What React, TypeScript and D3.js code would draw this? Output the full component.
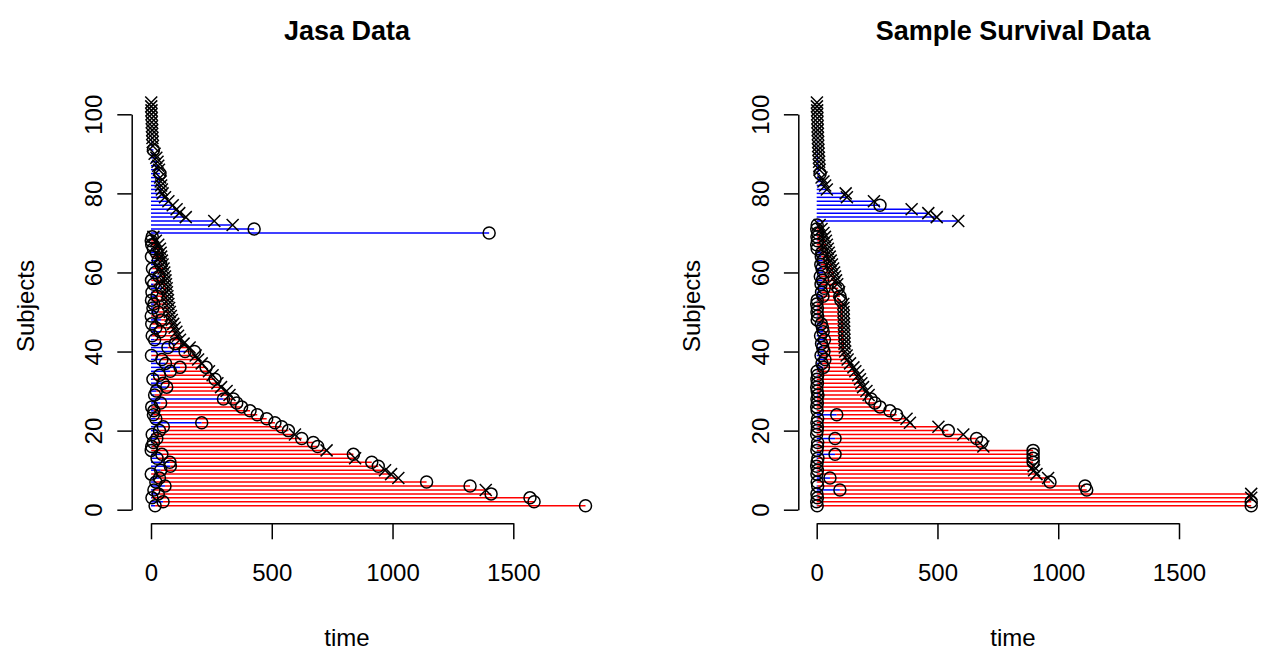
import React, { useEffect, useRef } from "react";
import * as d3 from "d3";

const FONT = "'Liberation Sans', Arial, Helvetica, sans-serif";

// subjects are numbered 1..103 from the bottom of each panel.
// wait = days before transplant (only the first rows were transplanted),
// end = last follow-up day, status 1 = died (x), 0 = censored (o)

// ---- Jasa Data ----
const jasaWait = [
  17, 50, 4, 30, 12, 58, 20, 35, 1, 40,
  80, 78, 25, 45, 1, 3, 10, 24, 5, 35,
  51, 210, 20, 10, 12, 3, 40, 300, 15, 22,
  65, 50, 8, 35, 80, 120, 60, 45, 2, 141,
  70, 100, 15, 5, 38, 20, 3, 42, 1, 30,
  8, 12, 2, 25, 4, 45, 11, 2, 33, 17,
  6, 40, 30, 2, 22, 10, 3, 1, 5,
];
const jasaEnd = [
  1799, 1586, 1569, 1408, 1386, 1321, 1141, 1024, 994, 969,
  941, 914, 845, 838, 727, 690, 672, 624, 596, 569,
  541, 513, 479, 440, 410, 375, 355, 341, 325, 313,
  290, 275, 265, 255, 240, 228, 210, 195, 185, 180,
  160, 135, 120, 112, 105, 98, 92, 86, 82, 78,
  75, 72, 70, 68, 66, 65, 62, 60, 58, 55,
  52, 48, 45, 42, 40, 37, 30, 20, 10,
  1400, 427, 338, 262, 144, 117, 106, 90, 72, 58,
  48, 45, 42, 40, 38, 37, 33, 30, 27, 22,
  15, 10, 8, 7, 6, 5, 5, 4, 3, 3,
  2, 2, 1, 1,
];
const jasaStatus = [
  0, 0, 0, 0, 1, 0, 0, 1, 1, 1,
  0, 0, 1, 0, 1, 0, 0, 0, 1, 0,
  0, 0, 0, 0, 0, 0, 0, 0, 1, 1,
  1, 1, 0, 1, 1, 0, 1, 1, 1, 0,
  1, 1, 1, 1, 1, 1, 1, 1, 1, 1,
  1, 1, 1, 1, 1, 1, 1, 1, 1, 1,
  1, 1, 1, 1, 1, 1, 1, 1, 1,
  0, 0, 1, 1, 1, 1, 1, 1, 1, 1,
  1, 1, 1, 1, 1, 0, 1, 1, 1, 1,
  1, 0, 1, 1, 1, 1, 1, 1, 1, 1,
  1, 1, 1, 1,
];

// ---- Sample Survival Data ----
const sampleWait = [
  2, 0, 3, 1, 96, 4, 2, 55, 1, 3,
  0, 2, 5, 76, 1, 3, 4, 76, 0, 2,
  3, 1, 4, 83, 2, 0, 3, 1, 5, 2,
  0, 3, 1, 4, 2, 28, 22, 34, 18, 30,
  25, 20, 32, 16, 27, 24, 19, 2, 4, 1,
  3, 0, 2, 26, 20, 31, 18, 24, 15, 28,
  22, 17, 25, 19, 21, 2, 0, 3, 1, 4,
  0, 2,
];
const sampleEnd = [
  1799, 1799, 1799, 1799, 1118, 1111, 966, 958, 910, 900,
  898, 896, 896, 896, 896, 690, 683, 662, 607, 545,
  504, 386, 372, 331, 303, 262, 241, 225, 215, 206,
  192, 185, 179, 172, 160, 152, 138, 128, 124, 118,
  116, 115, 115, 114, 114, 113, 113, 112, 112, 111,
  111, 110, 100, 96, 93, 89, 85, 80, 76, 72,
  68, 63, 58, 54, 50, 46, 42, 38, 34, 28,
  20, 12,
  586, 497, 462, 393, 262, 237, 125, 120, 42, 35,
  28, 20, 14, 12, 11, 10, 9, 8, 7, 6,
  6, 5, 5, 4, 4, 3, 3, 2, 2, 1,
  1,
];
const sampleStatus = [
  0, 0, 1, 1, 0, 0, 0, 1, 1, 1,
  1, 0, 0, 0, 0, 1, 0, 0, 1, 0,
  1, 1, 1, 0, 0, 0, 0, 0, 1, 1,
  1, 1, 1, 1, 1, 1, 1, 1, 1, 1,
  1, 1, 1, 1, 1, 1, 1, 1, 1, 1,
  1, 1, 0, 0, 1, 0, 1, 1, 1, 1,
  1, 1, 1, 1, 1, 1, 1, 1, 1, 1,
  1, 1,
  1, 1, 1, 1, 0, 1, 1, 1, 1, 1,
  1, 1, 0, 1, 1, 1, 1, 1, 1, 1,
  1, 1, 1, 1, 1, 1, 1, 1, 1, 1,
  1,
];

const xTicks = [0, 500, 1000, 1500];
const yTicks = [0, 20, 40, 60, 80, 100];

// layout of each panel (pixels)
const panels = [
  { title: "Jasa Data", wait: jasaWait, end: jasaEnd, status: jasaStatus, axisX: 131.7, zeroX: 151, center: 347 },
  { title: "Sample Survival Data", wait: sampleWait, end: sampleEnd, status: sampleStatus, axisX: 798.3, zeroX: 816.7, center: 1013 },
];

const drawPanel = (g, p) => {
  const x = d3.scaleLinear().domain([0, 1500]).range([p.zeroX, p.zeroX + 362.3]);
  const y = d3.scaleLinear().domain([0, 100]).range([509.7, 114.3]);

  const subjects = p.end.map((t, k) => ({
    id: k + 1,
    wait: k < p.wait.length ? p.wait[k] : null,
    end: t,
    dead: p.status[k] === 1,
  }));

  // blue: time before transplant (or whole follow-up when never transplanted)
  g.append("g")
    .selectAll("line")
    .data(subjects)
    .join("line")
    .attr("x1", x(0))
    .attr("x2", (d) => x(d.wait ?? d.end))
    .attr("y1", (d) => y(d.id))
    .attr("y2", (d) => y(d.id))
    .attr("stroke", "#0000ff")
    .attr("stroke-width", 1.5);

  // red: time after transplant
  g.append("g")
    .selectAll("line")
    .data(subjects.filter((d) => d.wait !== null))
    .join("line")
    .attr("x1", (d) => x(d.wait))
    .attr("x2", (d) => x(d.end))
    .attr("y1", (d) => y(d.id))
    .attr("y2", (d) => y(d.id))
    .attr("stroke", "#ff0000")
    .attr("stroke-width", 1.5);

  // end of every interval: o = no event, x = death
  const pts = [];
  subjects.forEach((d) => {
    if (d.wait !== null) pts.push({ t: d.wait, id: d.id, dead: false });
    pts.push({ t: d.end, id: d.id, dead: d.dead });
  });

  g.append("g")
    .selectAll("circle")
    .data(pts.filter((d) => !d.dead))
    .join("circle")
    .attr("cx", (d) => x(d.t))
    .attr("cy", (d) => y(d.id))
    .attr("r", 6)
    .attr("fill", "none")
    .attr("stroke", "#000")
    .attr("stroke-width", 1.5);

  g.append("g")
    .selectAll("path")
    .data(pts.filter((d) => d.dead))
    .join("path")
    .attr("transform", (d) => `translate(${x(d.t)},${y(d.id)})`)
    .attr("d", "M-6,-6L6,6M-6,6L6,-6")
    .attr("fill", "none")
    .attr("stroke", "#000")
    .attr("stroke-width", 1.5);

  // axes
  const yAxis = g
    .append("g")
    .attr("transform", `translate(${p.axisX},0)`)
    .call(d3.axisLeft(y).tickValues(yTicks).tickFormat(d3.format("d")).tickSize(14.4).tickSizeOuter(0));
  const xAxis = g
    .append("g")
    .attr("transform", `translate(0,523.3)`)
    .call(d3.axisBottom(x).tickValues(xTicks).tickFormat(d3.format("d")).tickSize(16).tickSizeOuter(0));

  [yAxis, xAxis].forEach((a) => {
    a.attr("font-size", 24).attr("font-family", FONT);
    a.select(".domain").attr("stroke", "#000").attr("stroke-width", 1.5);
    a.selectAll(".tick line").attr("stroke", "#000").attr("stroke-width", 1.5);
    a.selectAll(".tick text").attr("fill", "#000");
  });
  yAxis
    .selectAll(".tick text")
    .attr("x", null)
    .attr("dy", null)
    .attr("text-anchor", "middle")
    .attr("transform", "translate(-29.7,0) rotate(-90)");
  xAxis.selectAll(".tick text").attr("y", 57.3).attr("dy", 0);

  // titles and labels
  g.append("text")
    .attr("x", p.center)
    .attr("y", 40)
    .attr("text-anchor", "middle")
    .attr("font-family", FONT)
    .attr("font-weight", "bold")
    .attr("font-size", 27)
    .text(p.title);
  g.append("text")
    .attr("x", p.center)
    .attr("y", 645.6)
    .attr("text-anchor", "middle")
    .attr("font-family", FONT)
    .attr("font-size", 24)
    .text("time");
  g.append("text")
    .attr("transform", `translate(${p.axisX - 98},306) rotate(-90)`)
    .attr("text-anchor", "middle")
    .attr("font-family", FONT)
    .attr("font-size", 24)
    .text("Subjects");
};

export default function App() {
  const ref = useRef(null);

  useEffect(() => {
    const svg = d3.select(ref.current);
    svg.selectAll("*").remove();
    panels.forEach((p) => drawPanel(svg.append("g"), p));
  }, []);

  return (
    <svg
      ref={ref}
      width={1264}
      height={652}
      style={{ position: "absolute", left: 0, top: 0, background: "#fff" }}
    />
  );
}
